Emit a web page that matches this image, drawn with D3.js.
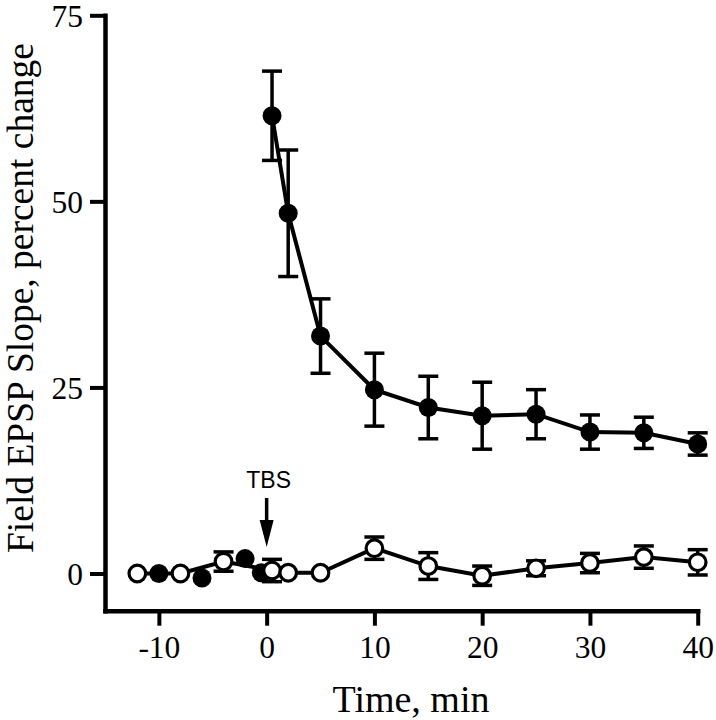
<!DOCTYPE html>
<html>
<head>
<meta charset="utf-8">
<script src="https://cdn.jsdelivr.net/npm/d3@7"></script>
<style>
  html, body { margin: 0; padding: 0; background: #fff; }
  svg { display: block; }
</style>
</head>
<body>
<svg id="chart" width="716" height="720"></svg>
<script>
// ---- data ----
const filledTimes = [0.5, 2, 5, 10, 15, 20, 25, 30, 35, 40];
const filledMeans = [61.5, 48.4, 31.9, 24.7, 22.3, 21.2, 21.4, 19.0, 18.9, 17.4];
const filledErr   = [6.0, 8.5, 5.0, 4.9, 4.2, 4.5, 3.3, 2.3, 2.1, 1.5];

const filledBaseTimes = [-10, -6, -2, -0.5];
const filledBaseMeans = [0.0, -0.6, 2.0, 0.1];

const openTimes = [-12, -8, -4, 0.5, 2, 5, 10, 15, 20, 25, 30, 35, 40];
const openMeans = [0.0, 0.0, 1.6, 0.4, 0.1, 0.1, 3.4, 1.0, -0.3, 0.7, 1.4, 2.2, 1.5];
const openErr   = [0, 0, 1.3, 1.5, 0, 0, 1.5, 1.8, 1.3, 1.0, 1.3, 1.5, 1.7];

const xTicks = [-10, 0, 10, 20, 30, 40];
const yTicks = [0, 25, 50, 75];
const xLabel = "Time, min";
const yLabel = "Field EPSP Slope, percent change";
const markerLabel = "TBS";
const markerTime = 0;

// ---- layout ----
const svg = d3.select("#chart");
const x = d3.scaleLinear().domain([-15, 40]).range([105, 697.7]);
const y = d3.scaleLinear().domain([-5, 75]).range([610.7, 15.3]);

const serif = "'Liberation Serif', 'Times New Roman', Times, serif";
const sans = "'Liberation Sans', Arial, Helvetica, sans-serif";

// axes
const xAxis = d3.axisBottom(x).tickValues(xTicks).tickSizeInner(15).tickSizeOuter(0).tickPadding(10)
  .tickFormat(d => String(d));
const yAxis = d3.axisLeft(y).tickValues(yTicks).tickSizeInner(15).tickSizeOuter(0).tickPadding(7)
  .tickFormat(d => String(d));

const gx = svg.append("g").attr("transform", `translate(0,${y(-5)})`).call(xAxis);
const gy = svg.append("g").attr("transform", `translate(${x(-15)},0)`).call(yAxis);

[gx, gy].forEach(g => {
  g.attr("font-family", null).attr("font-size", null);
  g.select(".domain").attr("stroke", "#000").attr("stroke-width", 4.5).attr("stroke-linecap", "square");
  g.selectAll(".tick line").attr("stroke", "#000").attr("stroke-width", 4);
  g.selectAll(".tick text").attr("fill", "#000").style("font-family", serif).style("font-size", "31.5px");
});
gx.selectAll(".tick text").attr("dy", "0.71em");
gy.selectAll(".tick text").attr("dy", "0.34em");

// axis titles
svg.append("text")
  .attr("x", 411).attr("y", 712)
  .attr("text-anchor", "middle")
  .style("font-family", serif).style("font-size", "38px")
  .text(xLabel);

svg.append("text")
  .attr("transform", `translate(33,298) rotate(-90)`)
  .attr("text-anchor", "middle")
  .style("font-family", serif).style("font-size", "37.5px")
  .text(yLabel);

// TBS marker
svg.append("text")
  .attr("x", x(markerTime) + 2).attr("y", 488)
  .attr("text-anchor", "middle")
  .style("font-family", sans).style("font-size", "23px")
  .text(markerLabel);
const ax = x(markerTime);
svg.append("line")
  .attr("x1", ax).attr("x2", ax).attr("y1", 498).attr("y2", 522)
  .attr("stroke", "#000").attr("stroke-width", 3.5);
svg.append("path")
  .attr("d", `M${ax - 7},${520} L${ax + 7},${520} L${ax},${547} Z`)
  .attr("fill", "#000");

// helpers
const line = d3.line().x(d => x(d.t)).y(d => y(d.v));

function errorBars(data) {
  const g = svg.append("g").attr("stroke", "#000");
  data.filter(d => d.e > 0).forEach(d => {
    g.append("line").attr("x1", x(d.t)).attr("x2", x(d.t))
      .attr("y1", y(d.v + d.e)).attr("y2", y(d.v - d.e)).attr("stroke-width", 3.5);
    [d.v + d.e, d.v - d.e].forEach(v => {
      g.append("line").attr("x1", x(d.t) - 10).attr("x2", x(d.t) + 10)
        .attr("y1", y(v)).attr("y2", y(v)).attr("stroke-width", 3.5);
    });
  });
}

const filledBase = filledBaseTimes.map((t, i) => ({ t, v: filledBaseMeans[i] }));
const filledPost = filledTimes.map((t, i) => ({ t, v: filledMeans[i], e: filledErr[i] }));
const openData = openTimes.map((t, i) => ({ t, v: openMeans[i], e: openErr[i] }));

// filled baseline points (behind)
svg.append("g").selectAll("circle").data(filledBase).join("circle")
  .attr("cx", d => x(d.t)).attr("cy", d => y(d.v)).attr("r", 9.5).attr("fill", "#000");

// open (control) series
svg.append("path").datum(openData).attr("d", line)
  .attr("fill", "none").attr("stroke", "#000").attr("stroke-width", 4);
errorBars(openData);
svg.append("g").selectAll("circle").data(openData).join("circle")
  .attr("cx", d => x(d.t)).attr("cy", d => y(d.v)).attr("r", 8.3)
  .attr("fill", "#fff").attr("stroke", "#000").attr("stroke-width", 3.2);

// filled (TBS) series
errorBars(filledPost);
svg.append("path").datum(filledPost).attr("d", line)
  .attr("fill", "none").attr("stroke", "#000").attr("stroke-width", 4);
svg.append("g").selectAll("circle").data(filledPost).join("circle")
  .attr("cx", d => x(d.t)).attr("cy", d => y(d.v)).attr("r", 9.5).attr("fill", "#000");
</script>
</body>
</html>
